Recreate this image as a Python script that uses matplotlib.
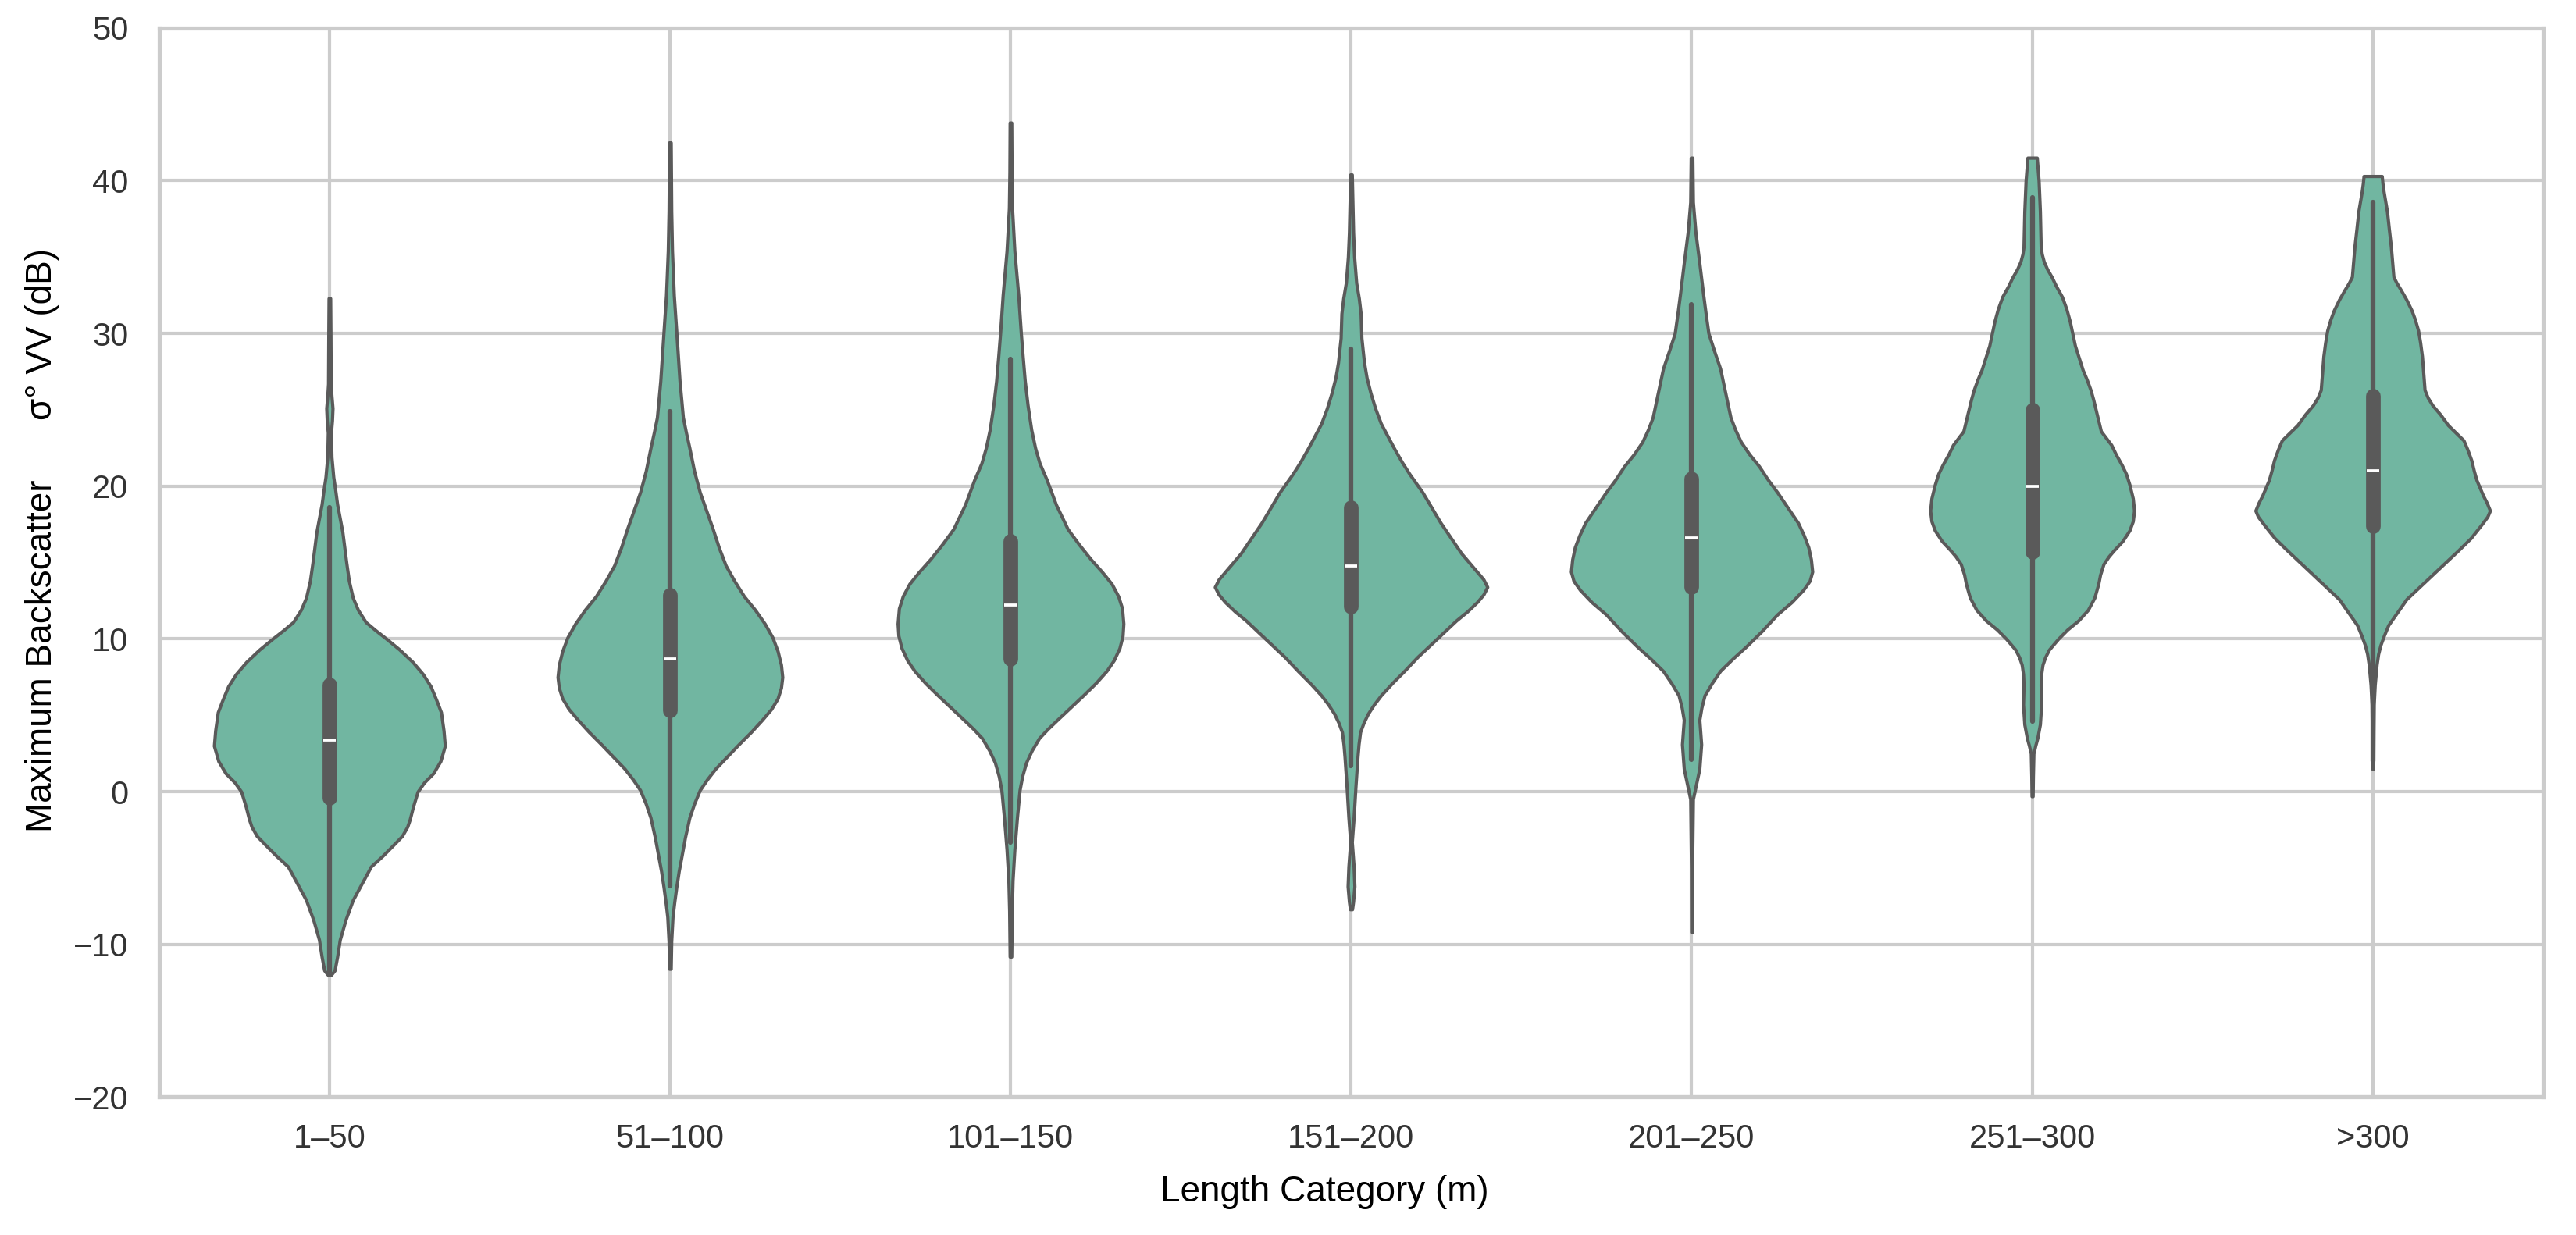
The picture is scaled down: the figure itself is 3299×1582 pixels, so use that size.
import numpy as np
import matplotlib
matplotlib.use("Agg")
import matplotlib.pyplot as plt


# ----------------------------------------------------------
# violin plot : maximum backscatter per length category
# ----------------------------------------------------------

CATEGORIES = ["1–50", "51–100", "101–150", "151–200", "201–250", "251–300", ">300"]

# density profiles (y in dB, half width in relative units)
Y_1_50 = [-12.0, -11.7, -10.8, -9.7, -8.4, -7.1, -6.0, -4.9, -4.2, -3.6, -2.9, -2.3, -1.8,
          -1.0, 0.0, 0.6, 1.2, 2.0, 3.0, 4.0, 5.2, 6.0, 6.9, 7.7, 8.5, 9.3, 10.0, 10.6,
          11.1, 11.9, 12.7, 13.8, 15.0, 17.0, 18.8, 19.8, 20.6, 21.9, 23.5, 24.3, 25.1,
          25.9, 26.7, 30.0, 32.3]
W_1_50 = [6, 20, 30, 40, 62, 90, 125, 160, 205, 240, 280, 300, 310,
          322, 340, 365, 400, 428, 445, 440, 430, 412, 390, 360, 320, 270, 220, 175,
          140, 110, 90, 75, 65, 50, 30, 22, 15, 8, 6, 10, 12,
          8, 5, 4, 3]

Y_51_100 = [-11.6, -9.8, -8.2, -7.2, -6.2, -5.2, -4.2, -3.0, -1.7, -0.8, 0.1, 0.8, 1.5,
            2.3, 3.1, 3.9, 4.7, 5.4, 6.1, 6.8, 7.5, 8.3, 9.2, 10.1, 11.0, 11.9, 12.8,
            13.8, 14.8, 16.0, 17.2, 18.4, 19.6, 21.0, 22.5, 23.5, 24.5, 26.9, 30.0, 32.5,
            35.4, 38.0, 42.5]
W_51_100 = [3, 5, 10, 17, 25, 34, 45, 58, 75, 93, 115, 143, 175,
            220, 265, 312, 355, 390, 415, 428, 433, 428, 415, 395, 365, 328, 285,
            248, 215, 188, 165, 140, 115, 93, 75, 62, 50, 37, 25, 15,
            8, 5, 3]

Y_101_150 = [-10.8, -7.8, -5.8, -3.8, -1.7, 0.1, 1.0, 1.9, 2.7, 3.5, 4.1, 4.7, 5.5, 6.3,
             7.1, 7.9, 8.6, 9.4, 10.2, 11.0, 12.0, 12.8, 13.6, 14.4, 15.2, 16.2, 17.2,
             18.8, 20.4, 21.5, 22.5, 23.7, 25.3, 26.9, 28.5, 30.0, 32.5, 35.4, 38.2, 40.6,
             43.8]
W_101_150 = [3, 5, 8, 15, 25, 35, 45, 60, 82, 110, 143, 180, 230, 280,
             328, 370, 398, 420, 432, 435, 430, 415, 390, 352, 310, 263, 220,
             175, 140, 112, 95, 80, 66, 55, 47, 40, 30, 15, 6, 4,
             3]

Y_151_200 = [-7.7, -7.2, -6.2, -4.9, -3.3, -1.7, 0.3, 2.3, 3.1, 3.9, 4.5, 5.1, 5.7, 6.3,
             7.1, 7.9, 8.8, 9.6, 10.4, 11.2, 11.8, 12.4, 12.9, 13.4, 13.9, 14.4, 15.0,
             15.6, 16.6, 17.6, 18.6, 19.6, 20.8, 21.6, 22.5, 23.3, 24.1, 25.1, 26.1, 27.1,
             28.1, 29.7, 31.3, 32.3, 33.3, 35.0, 36.6, 40.4]
W_151_200 = [4, 8, 13, 10, 3, 10, 17, 25, 29, 35, 48, 65, 88, 115,
             158, 205, 255, 305, 355, 405, 448, 485, 510, 525, 510, 485, 455,
             425, 385, 345, 310, 275, 225, 195, 165, 140, 115, 93, 75, 60,
             50, 40, 37, 30, 20, 12, 8, 3]

Y_201_250 = [-9.2, -5.0, -0.5, 0.3, 1.5, 3.1, 4.7, 5.5, 6.3, 7.1, 7.9, 8.7, 9.5, 10.5,
             11.6, 12.4, 13.2, 13.8, 14.4, 15.2, 16.0, 16.8, 17.6, 18.6, 19.6, 20.4, 21.3,
             22.1, 22.9, 23.7, 24.5, 25.3, 26.1, 26.9, 27.7, 28.8, 30.0, 31.2, 32.5, 34.6,
             36.6, 38.6, 41.5]
W_201_250 = [1.5, 2, 5, 15, 30, 37, 30, 38, 50, 78, 110, 158, 210, 270,
             330, 385, 430, 455, 465, 460, 450, 432, 410, 370, 330, 295, 260,
             222, 190, 168, 150, 140, 130, 120, 110, 88, 65, 55, 45, 30,
             15, 5, 3]

Y_251_300 = [-0.3, 1.0, 2.5, 3.0, 3.5, 4.4, 5.7, 7.0, 7.7, 8.3, 8.8, 9.3, 10.0, 10.6,
             11.2, 11.9, 12.7, 13.6, 14.2, 14.9, 15.4, 15.8, 16.4, 17.1, 17.7, 18.4, 19.2,
             20.1, 20.8, 21.4, 22.1, 22.7, 23.6, 24.3, 25.0, 25.7, 26.3, 27.0, 27.6, 28.4,
             29.2, 30.0, 30.8, 31.6, 32.4, 33.1, 33.7, 34.2, 34.7, 35.2, 35.7, 38.0, 40.0,
             41.5]
W_251_300 = [2, 3, 5, 12, 20, 30, 35, 33, 35, 40, 50, 65, 100, 135,
             178, 215, 240, 255, 262, 275, 295, 315, 348, 375, 388, 393, 388,
             375, 362, 345, 322, 305, 265, 255, 245, 235, 225, 210, 195, 180,
             165, 155, 145, 132, 115, 92, 75, 58, 45, 37, 33, 30, 25,
             18]

Y_OVER_300 = [1.5, 4.0, 5.7, 7.0, 8.3, 9.0, 9.6, 10.2, 10.9, 11.7, 12.6, 13.4, 14.2, 15.0,
              15.8, 16.6, 17.5, 18.0, 18.4, 18.9, 19.4, 20.4, 21.0, 21.7, 22.4, 23.0, 23.5,
              24.0, 24.7, 25.3, 25.8, 26.3, 27.4, 28.5, 29.4, 30.2, 30.9, 31.5, 32.2, 32.8,
              33.3, 33.7, 34.7, 35.7, 36.9, 38.0, 38.7, 39.3, 39.8, 40.3]
W_OVER_300 = [2, 3, 4, 8, 15, 21, 30, 43, 60, 93, 130, 180, 230, 280,
              330, 378, 420, 442, 452, 440, 425, 400, 390, 380, 365, 350, 320,
              290, 260, 230, 212, 200, 195, 190, 183, 175, 163, 150, 130, 110,
              92, 80, 75, 70, 62, 55, 48, 42, 38, 35]

PROFILE_Y = [Y_1_50, Y_51_100, Y_101_150, Y_151_200, Y_201_250, Y_251_300, Y_OVER_300]
PROFILE_W = [W_1_50, W_51_100, W_101_150, W_151_200, W_201_250, W_251_300, W_OVER_300]

# inner box statistics
Q1 = [-0.4, 5.3, 8.7, 12.1, 13.4, 15.7, 17.4]
MEDIAN = [3.4, 8.7, 12.2, 14.8, 16.6, 20.0, 21.0]
Q3 = [7.0, 12.9, 16.4, 18.6, 20.5, 25.0, 25.9]
WHISKER_LO = [-11.8, -6.2, -3.3, 1.7, 2.1, 4.6, 2.0]
WHISKER_HI = [18.6, 24.9, 28.3, 29.0, 31.9, 38.9, 38.6]

FILL_COLOR = "#71b6a1"
LINE_COLOR = "#5a5a5a"
GRID_COLOR = "#cccccc"

plt.rcParams["font.family"] = ["Liberation Sans", "DejaVu Sans"]


def draw_violins(ax):
    global_max = max(max(w) for w in PROFILE_W)
    positions = np.arange(len(CATEGORIES))

    vpstats = []
    widths = []
    for i in range(len(CATEGORIES)):
        ys = np.array(PROFILE_Y[i], dtype=float)
        ws = np.array(PROFILE_W[i], dtype=float)
        vpstats.append({
            "coords": ys,
            "vals": ws,
            "mean": MEDIAN[i],
            "median": MEDIAN[i],
            "min": ys.min(),
            "max": ys.max(),
        })
        widths.append(0.8 * ws.max() / global_max)

    parts = ax.violin(vpstats, positions=positions, widths=widths,
                      showmeans=False, showextrema=False, showmedians=False)
    for body in parts["bodies"]:
        body.set_facecolor(FILL_COLOR)
        body.set_edgecolor(LINE_COLOR)
        body.set_linewidth(1.0)
        body.set_joinstyle("round")
        body.set_alpha(1)
        body.set_zorder(2)

    for i, pos in enumerate(positions):
        ax.plot([pos, pos], [WHISKER_LO[i], WHISKER_HI[i]], color=LINE_COLOR,
                lw=1.5, solid_capstyle="round", zorder=3)
        ax.plot([pos, pos], [Q1[i], Q3[i]], color=LINE_COLOR,
                lw=4.5, solid_capstyle="round", zorder=4)
        ax.plot(pos, MEDIAN[i], marker="_", ms=3.75, mew=0.9, color="white",
                markeredgecolor="white", zorder=5)


def main():
    fig = plt.figure(figsize=(3299 / 300, 1582 / 300), dpi=300)
    ax = fig.add_axes([0.0618, 0.1116, 0.9254, 0.8658])

    draw_violins(ax)

    ax.set_xlim(-0.5, len(CATEGORIES) - 0.5)
    ax.set_ylim(-20, 50)
    ax.set_xticks(np.arange(len(CATEGORIES)))
    ax.set_xticklabels(CATEGORIES)
    ax.set_yticks(np.arange(-20, 51, 10))

    ax.grid(True, color=GRID_COLOR, lw=1.0)
    ax.set_axisbelow(True)
    for spine in ax.spines.values():
        spine.set_color(GRID_COLOR)
        spine.set_linewidth(1.25)

    ax.tick_params(axis="both", length=0, labelsize=10, colors="#333333")
    ax.tick_params(axis="x", pad=8)
    ax.tick_params(axis="y", pad=9.5)

    ax.set_xlabel("Length Category (m)", fontsize=11, color="black")
    ax.set_ylabel("Maximum Backscatter" + " " * 6 + "σ° VV (dB)", fontsize=11, color="black")
    ax.xaxis.set_label_coords(0.4887, -0.073)
    ax.yaxis.set_label_coords(-0.042, 0.521)

    fig.savefig("out.png", dpi=300)
    plt.close(fig)


if __name__ == "__main__":
    main()
